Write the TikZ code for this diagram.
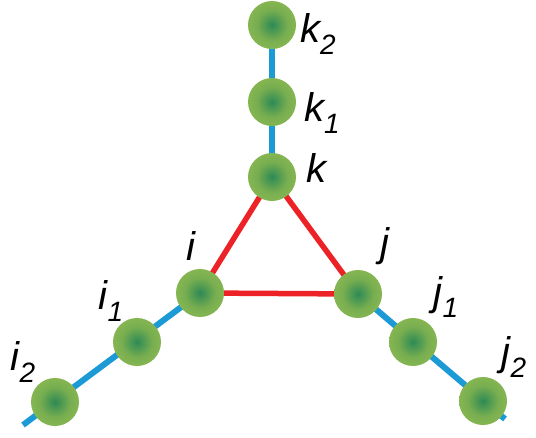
\documentclass[tikz,border=0pt]{standalone}
\usepackage{fontspec}
\setmainfont{Liberation Sans}
\definecolor{ballin}{HTML}{2E8A55}
\definecolor{ballmid}{HTML}{78AE50}
\definecolor{ballout}{HTML}{97C053}
\definecolor{bondblue}{HTML}{1B9AD6}
\definecolor{bondred}{HTML}{EC2226}
\pgfdeclareradialshading{ballshade}{\pgfpoint{0bp}{0bp}}{color(0bp)=(ballin); color(16bp)=(ballmid); color(38bp)=(ballout); color(50bp)=(ballout)}
\newcommand{\lab}[2]{{\fontsize{40}{44}\selectfont\itshape #1\raisebox{-0.3em}{\fontsize{28}{30}\selectfont #2}}}
\tikzset{
  ball/.style={circle, minimum size=48pt, inner sep=0pt, shading=ballshade},
  blueb/.style={draw=bondblue, line width=6pt},
  redb/.style={draw=bondred, line width=5.5pt},
  lbl/.style={inner sep=0pt, anchor=center}
}
\begin{document}
\begin{tikzpicture}[x=1pt,y=-1pt]
\useasboundingbox (0,0) rectangle (536,437);
% coordinates
\coordinate (K2) at (272,25);
\coordinate (K1) at (272,102);
\coordinate (K) at (272,177);
\coordinate (I) at (200,293);
\coordinate (I1) at (137,342);
\coordinate (I2) at (55,402);
\coordinate (J) at (358,294);
\coordinate (J1) at (413,342);
\coordinate (J2) at (483,401);
\coordinate (Iend) at (23,425);
\coordinate (Jend) at (505,419);
% bonds
\draw[blueb] (K2) -- (K);
\draw[blueb] (I) -- (Iend);
\draw[blueb] (J) -- (Jend);
\draw[redb] (K) -- (I) -- (J) -- cycle;
% balls
\foreach \p/\n in {K2/bk2,K1/bk1,K/bk,I/bi,I1/bi1,I2/bi2,J/bj,J1/bj1,J2/bj2}
  \node[ball] (\n) at (\p) {};
% labels
\node[lbl] (lk2) at (318,34) {\lab{k}{2}};
\node[lbl] (lk1) at (322,113) {\lab{k}{1}};
\node[lbl] (lk) at (316,174) {\lab{k}{}};
\node[lbl] (li) at (191,252) {\lab{i}{}};
\node[lbl] (li1) at (111,301) {\lab{i}{1}};
\node[lbl] (li2) at (23,362) {\lab{i}{2}};
\node[lbl] (lj) at (385,248) {\lab{j}{}};
\node[lbl] (lj1) at (446,297) {\lab{j}{1}};
\node[lbl] (lj2) at (514,357) {\lab{j}{2}};
\end{tikzpicture}
\end{document}
